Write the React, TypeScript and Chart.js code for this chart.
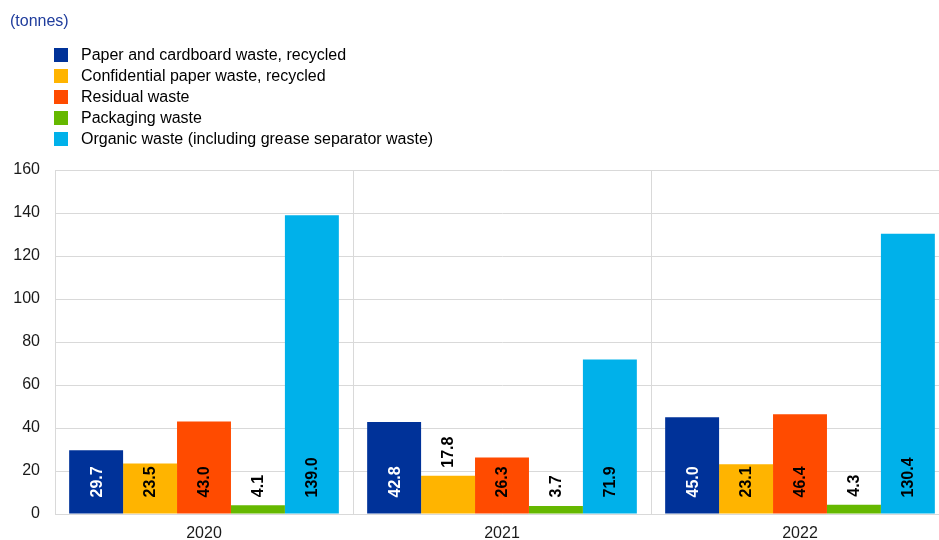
import React, { useEffect, useRef } from "react";
import { Chart, registerables } from "chart.js";

Chart.register(...registerables);

const categories = ["2020", "2021", "2022"];
const seriesNames = [
  "Paper and cardboard waste, recycled",
  "Confidential paper waste, recycled",
  "Residual waste",
  "Packaging waste",
  "Organic waste (including grease separator waste)",
];
const paperCardboard = [29.7, 42.8, 45.0];
const confidentialPaper = [23.5, 17.8, 23.1];
const residual = [43.0, 26.3, 46.4];
const packaging = [4.1, 3.7, 4.3];
const organic = [139.0, 71.9, 130.4];
const seriesColors = ["#003299", "#FFB400", "#FF4B00", "#65B800", "#00B1EA"];
const labelColors = ["#ffffff", "#000000", "#000000", "#000000", "#000000"];
const yTicks = [0, 20, 40, 60, 80, 100, 120, 140, 160];
const unitLabel = "(tonnes)";

const FONT = "'Liberation Sans', Arial, Helvetica, sans-serif";
const CANVAS_W = 950;

const labelPlugin = {
  id: "barLabels",
  afterDatasetsDraw(chart: any) {
    const ctx = chart.ctx;
    ctx.save();
    ctx.font = `bold 16px ${FONT}`;
    chart.data.datasets.forEach((ds: any, di: number) => {
      const meta = chart.getDatasetMeta(di);
      meta.data.forEach((el: any, i: number) => {
        const v = ds.data[i];
        const text = v.toFixed(1);
        const tw = ctx.measureText(text).width;
        const h = el.base - el.y;
        let start: number;
        let color: string;
        if (h >= tw + 18) {
          start = el.base - 16;
          color = labelColors[di];
        } else {
          start = Math.min(el.base - 16, el.y - 8);
          color = "#000000";
        }
        ctx.save();
        ctx.translate(el.x, start);
        ctx.rotate(-Math.PI / 2);
        ctx.fillStyle = color;
        ctx.textAlign = "left";
        ctx.textBaseline = "middle";
        ctx.fillText(text, 0, 1);
        ctx.restore();
      });
    });
    ctx.restore();
  },
};

const legendPlugin = {
  id: "customLegend",
  afterDraw(chart: any) {
    const ctx = chart.ctx;
    ctx.save();
    ctx.font = `16px ${FONT}`;
    ctx.textBaseline = "middle";
    ctx.textAlign = "left";
    ctx.fillStyle = "#1f3c9c";
    ctx.fillText(unitLabel, 10, 22);
    seriesNames.forEach((name, i) => {
      const cy = 55 + i * 21;
      ctx.fillStyle = seriesColors[i];
      ctx.fillRect(54, cy - 7, 14, 14);
      ctx.fillStyle = "#000000";
      ctx.fillText(name, 81, cy + 1);
    });
    ctx.restore();
  },
};

export default function App() {
  const ref = useRef<HTMLCanvasElement>(null);
  useEffect(() => {
    if (!ref.current) return;
    Chart.defaults.font.family = FONT;
    const values = [paperCardboard, confidentialPaper, residual, packaging, organic];
    const chart = new Chart(ref.current, {
      type: "bar",
      data: {
        labels: categories,
        datasets: seriesNames.map((name, i) => ({
          label: name,
          data: values[i],
          backgroundColor: seriesColors[i],
          borderWidth: 0,
          categoryPercentage: 0.905,
          barPercentage: 1.0,
        })),
      },
      options: {
        animation: false,
        responsive: false,
        maintainAspectRatio: false,
        layout: { padding: { top: 170, right: 1, left: 0, bottom: 0 } },
        plugins: {
          legend: { display: false },
          tooltip: { enabled: false },
          title: { display: false },
        },
        scales: {
          x: {
            grid: {
              color: "#d9d9d9",
              lineWidth: 1,
              drawTicks: false,
              offset: true,
            },
            border: { color: "#d9d9d9" },
            ticks: {
              color: "#1a1a1a",
              font: { size: 16, family: FONT },
              padding: 10,
            },
            afterFit(scale: any) {
              scale.height = 26;
            },
          },
          y: {
            min: 0,
            max: 160,
            afterBuildTicks(scale: any) {
              scale.ticks = yTicks.map((v) => ({ value: v }));
            },
            grid: { color: "#d9d9d9", lineWidth: 1, drawTicks: false },
            border: { color: "#d9d9d9" },
            ticks: {
              color: "#1a1a1a",
              font: { size: 16, family: FONT },
              padding: 15,
            },
            afterFit(scale: any) {
              scale.width = 55;
            },
          },
        },
      },
      plugins: [labelPlugin, legendPlugin],
    });
    return () => chart.destroy();
  }, []);
  return (
    <div style={{ position: "absolute", left: 0, top: 0, width: 939, height: 540, background: "#fff", overflow: "hidden" }}>
      <canvas ref={ref} width={CANVAS_W} height={540} style={{ width: CANVAS_W, height: 540, display: "block" }} />
    </div>
  );
}
